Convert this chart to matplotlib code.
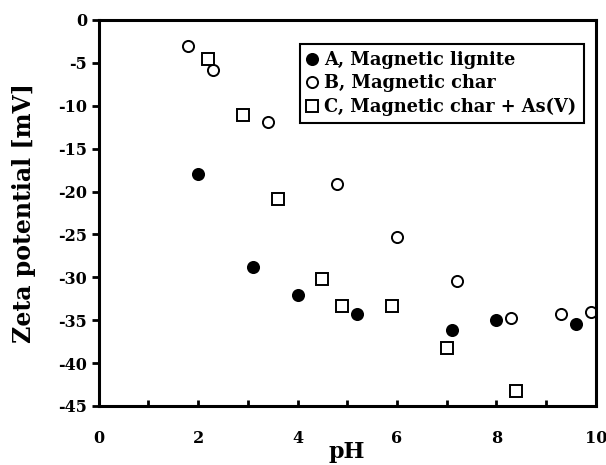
import matplotlib
matplotlib.use("Agg")
import matplotlib.pyplot as plt

plt.rcParams['font.family'] = 'DejaVu Serif'
plt.rcParams['font.weight'] = 'bold'
plt.rcParams['axes.unicode_minus'] = False

# Series A: magnetic lignite
ph_a = [2.0, 3.1, 4.0, 5.2, 7.1, 8.0, 9.6]
zeta_a = [-18.0, -28.8, -32.1, -34.3, -36.1, -35.0, -35.4]

# Series B: magnetic char
ph_b = [1.8, 2.3, 3.4, 4.8, 6.0, 7.2, 8.3, 9.3, 9.9]
zeta_b = [-3.0, -5.8, -11.9, -19.1, -25.3, -30.4, -34.8, -34.3, -34.0]

# Series C: magnetic char + As(V)
ph_c = [2.2, 2.9, 3.6, 4.5, 4.9, 5.9, 7.0, 8.4]
zeta_c = [-4.6, -11.1, -20.9, -30.2, -33.3, -33.4, -38.3, -43.2]

labels = ['A, Magnetic lignite', 'B, Magnetic char', 'C, Magnetic char + As(V)']

fig = plt.figure(figsize=(6.06, 4.65), dpi=100)
ax = fig.add_axes([0.163, 0.127, 0.820, 0.830])

ms = 8
ax.plot(ph_a, zeta_a, 'o', ms=ms, mfc='black', mec='black', mew=1.4, label=labels[0], clip_on=False)
ax.plot(ph_b, zeta_b, 'o', ms=ms, mfc='white', mec='black', mew=1.4, label=labels[1], clip_on=False)
ax.plot(ph_c, zeta_c, 's', ms=ms, mfc='white', mec='black', mew=1.4, label=labels[2], clip_on=False)

ax.set_xlim(0, 10)
ax.set_ylim(-45, 0)
ax.set_xticks(range(0, 11, 2))
ax.set_xticks(range(0, 11), minor=True)
ax.set_yticks(range(-45, 1, 5))

for s in ax.spines.values():
    s.set_linewidth(2.2)

ax.tick_params(axis='x', which='both', direction='in', length=4, width=2, labelsize=11.5, pad=17)
ax.tick_params(axis='y', direction='out', length=5, width=2, labelsize=11.5)

ax.set_xlabel('pH', fontsize=16, fontweight='bold', labelpad=-4)
ax.set_ylabel('Zeta potential [mV]', fontsize=17, fontweight='bold', labelpad=16)

leg = ax.legend(loc='upper left', bbox_to_anchor=(0.404, 0.938), borderaxespad=0,
                fontsize=12.8, handlelength=0.6, handletextpad=0.4, labelspacing=0.3,
                fancybox=False, framealpha=1, edgecolor='black', borderpad=0.4)
leg.get_frame().set_linewidth(1.5)

fig.savefig('out.png', dpi=100)
